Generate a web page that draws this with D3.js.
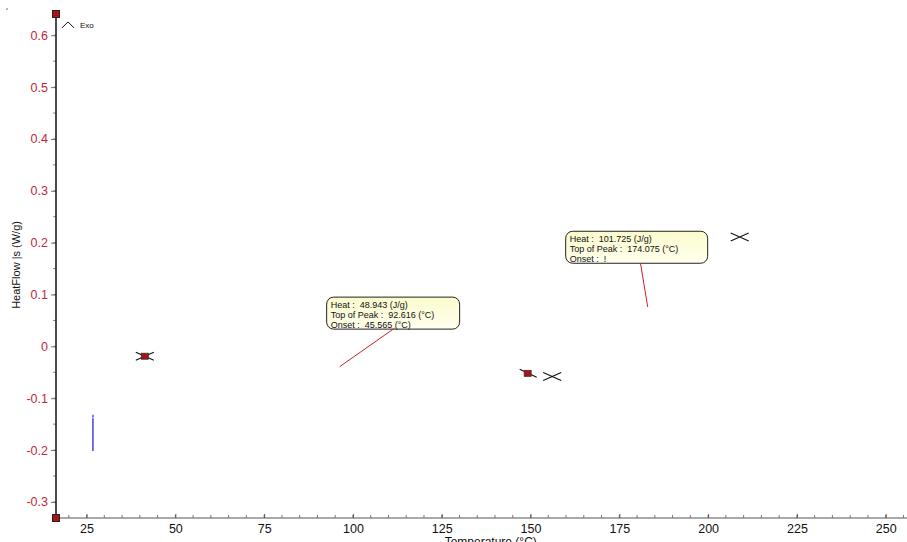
<!DOCTYPE html>
<html>
<head>
<meta charset="utf-8">
<script src="https://cdn.jsdelivr.net/npm/d3@7"></script>
<style>
  html, body { margin: 0; padding: 0; background: #fff; }
  svg { display: block; font-family: "Liberation Sans", Arial, sans-serif; }
  .note { white-space: pre; }
</style>
</head>
<body>
<svg id="chart" width="907" height="542"></svg>
<script>
// Axis ranges and tick labels
const xDomain = [16.4, 256];
const yDomain = [-0.331, 0.641];
const xTicks = [25, 50, 75, 100, 125, 150, 175, 200, 225, 250];
const yTicks = [-0.3, -0.2, -0.1, 0, 0.1, 0.2, 0.3, 0.4, 0.5, 0.6];
const yTickLabels = ["-0.3", "-0.2", "-0.1", "0", "0.1", "0.2", "0.3", "0.4", "0.5", "0.6"];

// Short blue trace segment (temperature, heat flow)
const traceTemp = [26.8, 26.8, 26.8, 26.8];
const traceFlow = [-0.131, -0.14, -0.17, -0.202];

// Cursor crosses (temperature, heat flow)
const crossTemp = [41.4, 156.1, 208.9];
const crossFlow = [-0.019, -0.058, 0.211];

// Peak limit markers (temperature, heat flow)
const limitTemp = [41.4, 149.2];
const limitFlow = [-0.019, -0.052];

// Peak result annotations
const peakLabels = [
  ["Heat :  48.943 (J/g)", "Top of Peak :  92.616 (°C)", "Onset :  45.565 (°C)"],
  ["Heat :  101.725 (J/g)", "Top of Peak :  174.075 (°C)", "Onset :  !"]
];
const peakBoxTemp = [92.6, 159.9];
const peakBoxFlow = [0.095, 0.222];
const peakPointTemp = [96.3, 183.0];
const peakPointFlow = [-0.039, 0.076];
const peakAnchorTemp = [111.7, 181.0];
const peakAnchorFlow = [0.035, 0.159];

const svg = d3.select("#chart");
const margin = { left: 56, right: 0, top: 14, bottom: 24 };
const W = 907, H = 542;

const x = d3.scaleLinear().domain(xDomain).range([margin.left, W - margin.right]);
const y = d3.scaleLinear().domain(yDomain).range([H - margin.bottom, margin.top]);

const defs = svg.append("defs");
const grad = defs.append("linearGradient").attr("id", "boxFill")
  .attr("x1", 0).attr("y1", 0).attr("x2", 0).attr("y2", 1);
grad.append("stop").attr("offset", "0%").attr("stop-color", "#fbfbcc");
grad.append("stop").attr("offset", "100%").attr("stop-color", "#ffffee");

// X axis
const xMinor = d3.range(20, 256, 5);
const xAxisG = svg.append("g").attr("transform", `translate(0,${y(yDomain[0])})`);
xAxisG.append("line").attr("x1", x(xDomain[0])).attr("x2", W)
  .attr("stroke", "#555").attr("stroke-width", 1);
xAxisG.selectAll(".xminor").data(xMinor).join("line")
  .attr("x1", d => x(d)).attr("x2", d => x(d)).attr("y1", 0).attr("y2", -3)
  .attr("stroke", "#777");
xAxisG.call(d3.axisBottom(x).tickValues(xTicks).tickSize(-4).tickPadding(6).tickFormat(d3.format("d")))
  .call(g => g.select(".domain").remove())
  .call(g => g.selectAll(".tick line").attr("stroke", "#555"))
  .call(g => g.selectAll(".tick text").attr("fill", "#111").attr("font-size", 12.5)
    .attr("font-family", "Liberation Sans, Arial, sans-serif"));

// Y axis
const yMinor = d3.range(-0.3, 0.65, 0.05);
const yAxisG = svg.append("g").attr("transform", `translate(${x(xDomain[0])},0)`);
yAxisG.selectAll(".yminor").data(yMinor).join("line")
  .attr("x1", 0).attr("x2", -3).attr("y1", d => y(d)).attr("y2", d => y(d))
  .attr("stroke", "#888");
yAxisG.call(d3.axisLeft(y).tickValues(yTicks).tickSize(5).tickPadding(3)
    .tickFormat((d, i) => yTickLabels[i]))
  .call(g => g.select(".domain").remove())
  .call(g => g.selectAll(".tick line").attr("stroke", "#777"))
  .call(g => g.selectAll(".tick text").attr("fill", "#c0283a").attr("font-size", 12.5)
    .attr("font-family", "Liberation Sans, Arial, sans-serif"));
yAxisG.append("line").attr("x1", 0).attr("x2", 0)
  .attr("y1", y(yDomain[1])).attr("y2", y(yDomain[0]))
  .attr("stroke", "#111").attr("stroke-width", 1.5);

// Axis end markers
[[xDomain[0], yDomain[1]], [xDomain[0], yDomain[0]]].forEach(p => {
  svg.append("rect").attr("x", x(p[0]) - 3.5).attr("y", y(p[1]) - 3.5)
    .attr("width", 7).attr("height", 7)
    .attr("fill", "#b01018").attr("stroke", "#222").attr("stroke-width", 1);
});

// Axis titles
svg.append("text")
  .attr("transform", `translate(20,${y(0.157)}) rotate(-90)`)
  .attr("text-anchor", "middle").attr("font-size", 11).attr("fill", "#111")
  .text("HeatFlow |s (W/g)");
svg.append("text")
  .attr("x", x(138.8)).attr("y", 546).attr("text-anchor", "middle")
  .attr("font-size", 12).attr("fill", "#111")
  .text("Temperature (°C)");

// Exo direction caret
const ex = x(xDomain[0]) + 12, ey = y(0.62);
svg.append("path")
  .attr("d", `M${ex - 6},${ey + 3} L${ex},${ey - 3} L${ex + 6},${ey + 3}`)
  .attr("fill", "none").attr("stroke", "#111").attr("stroke-width", 1);
svg.append("text").attr("x", ex + 12).attr("y", ey + 3)
  .attr("font-size", 8).attr("fill", "#111").text("Exo");
svg.append("circle").attr("cx", 7).attr("cy", 9).attr("r", 0.7).attr("fill", "#333");

// Blue trace
svg.append("path")
  .datum(traceTemp.map((t, i) => [t, traceFlow[i]]))
  .attr("d", d3.line().x(d => x(d[0])).y(d => y(d[1])))
  .attr("stroke", "#3535e0").attr("stroke-width", 1.4).attr("fill", "none");
svg.append("line")
  .attr("x1", x(traceTemp[0])).attr("x2", x(traceTemp[0]))
  .attr("y1", y(traceFlow[0])).attr("y2", y(traceFlow[1]))
  .attr("stroke", "#fff").attr("stroke-width", 1.5).attr("stroke-dasharray", "1,2");

// Crosses
crossTemp.forEach((t, i) => {
  const cx = x(t), cy = y(crossFlow[i]);
  svg.append("path")
    .attr("d", `M${cx - 9},${cy - 4} L${cx + 9},${cy + 4} M${cx - 9},${cy + 4} L${cx + 9},${cy - 4}`)
    .attr("stroke", "#111").attr("stroke-width", 1.1).attr("fill", "none");
});

// Peak limit markers
limitTemp.forEach((t, i) => {
  const cx = x(t), cy = y(limitFlow[i]);
  if (i === 1) {
    svg.append("line").attr("x1", cx - 8).attr("y1", cy - 4).attr("x2", cx + 9).attr("y2", cy + 4)
      .attr("stroke", "#111").attr("stroke-width", 1.1);
  }
  svg.append("rect").attr("x", cx - 3.5).attr("y", cy - 3).attr("width", 7).attr("height", 6)
    .attr("fill", "#b01018").attr("stroke", "#333").attr("stroke-width", 0.8);
});

// Peak annotations
peakLabels.forEach((lines, i) => {
  const bx = x(peakBoxTemp[i]), by = y(peakBoxFlow[i]);
  const g = svg.append("g");
  const t = g.append("g");
  lines.forEach((s, j) => {
    t.append("text").attr("class", "note").attr("x", bx + 4).attr("y", by + 10.5 + j * 10)
      .attr("font-size", 9).attr("fill", "#111").text(s);
  });
  const bb = t.node().getBBox();
  const bw = Math.max(bb.width + 10, i === 0 ? 133 : 142);
  g.insert("rect", ":first-child")
    .attr("x", bx).attr("y", by).attr("width", bw).attr("height", 32)
    .attr("rx", 7).attr("ry", 7)
    .attr("fill", "url(#boxFill)").attr("stroke", "#222").attr("stroke-width", 1);
  svg.append("line")
    .attr("x1", x(peakAnchorTemp[i])).attr("y1", y(peakAnchorFlow[i]))
    .attr("x2", x(peakPointTemp[i])).attr("y2", y(peakPointFlow[i]))
    .attr("stroke", "#c8202e").attr("stroke-width", 1);
});
</script>
</body>
</html>
